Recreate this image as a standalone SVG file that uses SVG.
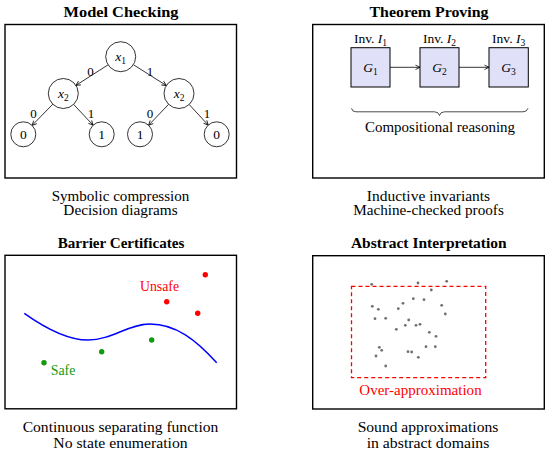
<svg xmlns="http://www.w3.org/2000/svg" width="550" height="455" viewBox="0 0 550 455">
<defs>
<style>
text{font-family:"Liberation Serif","DejaVu Serif",serif;fill:#000}
.title{font-size:15.5px;font-weight:bold;text-anchor:middle}
.cap{font-size:14.5px;text-anchor:middle}
.panel{fill:#fff;stroke:#000;stroke-width:1.4}
.nd{fill:#fff;stroke:#000;stroke-width:0.8}
.lbl{font-size:13.5px;text-anchor:middle}
.el{font-size:13px;text-anchor:middle}
.edge{stroke:#000;stroke-width:0.8;fill:none;marker-end:url(#ah)}
.g{fill:#e0e0f8;stroke:#000;stroke-width:1}
.dot{fill:#707070}
</style>
<marker id="ah" viewBox="0 0 6 6" refX="5.5" refY="3" markerWidth="6" markerHeight="6" markerUnits="userSpaceOnUse" orient="auto">
<path d="M1,0.8 L5.5,3 L1,5.2" fill="none" stroke="#000" stroke-width="0.8"/>
</marker>
</defs>
<rect width="550" height="455" fill="#fff"/>

<!-- Panel 1: Model Checking -->
<g id="model-checking">
<text class="title" x="121" y="17" textLength="115" lengthAdjust="spacingAndGlyphs">Model Checking</text>
<rect class="panel" x="5" y="24.5" width="231.5" height="153.5"/>
<g id="connectors-mc">
<line class="edge" x1="108.1" y1="64.8" x2="75.9" y2="85.4"/>
<line class="edge" x1="133.4" y1="64.7" x2="166.3" y2="85.5"/>
<line class="edge" x1="52.8" y1="104.2" x2="32.1" y2="125.4"/>
<line class="edge" x1="73.6" y1="104.4" x2="93.1" y2="125.2"/>
<line class="edge" x1="168.6" y1="104.3" x2="148.6" y2="125.3"/>
<line class="edge" x1="189.2" y1="104.5" x2="208.2" y2="125.1"/>
<text class="el" x="90.5" y="76">0</text>
<text class="el" x="150" y="76">1</text>
<text class="el" x="33.5" y="117.5">0</text>
<text class="el" x="91" y="117.5">1</text>
<text class="el" x="150" y="117.5">0</text>
<text class="el" x="207" y="117.5">1</text>
</g>
<g id="n-root"><circle class="nd" cx="120.7" cy="56.7" r="15"/><text class="lbl" x="120.7" y="61"><tspan font-style="italic">x</tspan><tspan font-size="9.5" dy="2.5">1</tspan></text></g>
<g id="n-x2l"><circle class="nd" cx="63.3" cy="93.5" r="15"/><text class="lbl" x="63.3" y="98"><tspan font-style="italic">x</tspan><tspan font-size="9.5" dy="2.5">2</tspan></text></g>
<g id="n-x2r"><circle class="nd" cx="179" cy="93.5" r="15"/><text class="lbl" x="179" y="98"><tspan font-style="italic">x</tspan><tspan font-size="9.5" dy="2.5">2</tspan></text></g>
<g id="n-l1"><circle class="nd" cx="23.3" cy="134.3" r="12.5"/><text class="lbl" x="23.3" y="139">0</text></g>
<g id="n-l2"><circle class="nd" cx="101.7" cy="134.3" r="12.5"/><text class="lbl" x="101.7" y="139">1</text></g>
<g id="n-l3"><circle class="nd" cx="140" cy="134.3" r="12.5"/><text class="lbl" x="140" y="139">1</text></g>
<g id="n-l4"><circle class="nd" cx="216.7" cy="134.3" r="12.5"/><text class="lbl" x="216.7" y="139">0</text></g>
<text class="cap" x="120.5" y="200.5" textLength="137.6" lengthAdjust="spacingAndGlyphs">Symbolic compression</text>
<text class="cap" x="120.5" y="215" textLength="114.3" lengthAdjust="spacingAndGlyphs">Decision diagrams</text>
</g>

<!-- Panel 2: Theorem Proving -->
<g id="theorem-proving">
<text class="title" x="429" y="17" textLength="119" lengthAdjust="spacingAndGlyphs">Theorem Proving</text>
<rect class="panel" x="312.7" y="24.5" width="231.6" height="153.5"/>
<g id="connectors-tp">
<line class="edge" x1="390" y1="67.3" x2="420" y2="67.3"/>
<line class="edge" x1="459" y1="67.3" x2="489" y2="67.3"/>
</g>
<g id="g1"><rect class="g" x="351" y="47.7" width="39" height="39.3"/><text class="lbl" x="370.5" y="72"><tspan font-style="italic">G</tspan><tspan font-size="9.5" dy="2.5">1</tspan></text><text class="lbl" x="370.5" y="43"><tspan>Inv. </tspan><tspan font-style="italic">I</tspan><tspan font-size="9.5" dy="2.5">1</tspan></text></g>
<g id="g2"><rect class="g" x="420" y="47.7" width="39" height="39.3"/><text class="lbl" x="439.5" y="72"><tspan font-style="italic">G</tspan><tspan font-size="9.5" dy="2.5">2</tspan></text><text class="lbl" x="439.5" y="43"><tspan>Inv. </tspan><tspan font-style="italic">I</tspan><tspan font-size="9.5" dy="2.5">2</tspan></text></g>
<g id="g3"><rect class="g" x="489" y="47.7" width="39.3" height="39.3"/><text class="lbl" x="508.6" y="72"><tspan font-style="italic">G</tspan><tspan font-size="9.5" dy="2.5">3</tspan></text><text class="lbl" x="508.6" y="43"><tspan>Inv. </tspan><tspan font-style="italic">I</tspan><tspan font-size="9.5" dy="2.5">3</tspan></text></g>
<path d="M351.5,108.3 Q352,111.8 356,111.8 L434.5,111.8 Q438.7,111.8 439.5,115.5 Q440.3,111.8 444.5,111.8 L523,111.8 Q527,111.8 528,108.3" fill="none" stroke="#000" stroke-width="0.7"/>
<text x="440" y="132" font-size="14.5" text-anchor="middle" textLength="150" lengthAdjust="spacingAndGlyphs">Compositional reasoning</text>
<text class="cap" x="428.5" y="200.5" textLength="123.3" lengthAdjust="spacingAndGlyphs">Inductive invariants</text>
<text class="cap" x="428.5" y="215" textLength="150.7" lengthAdjust="spacingAndGlyphs">Machine-checked proofs</text>
</g>

<!-- Panel 3: Barrier Certificates -->
<g id="barrier">
<text class="title" x="121" y="248" textLength="126.7" lengthAdjust="spacingAndGlyphs">Barrier Certificates</text>
<rect class="panel" x="5" y="255.3" width="231.5" height="153.5"/>
<path d="M24.3,313.3 C45,328 68,340 88,340 C112,340 128,324 150,324 C176,324 196,340 216.7,362.7" fill="none" stroke="#0000ff" stroke-width="1.5"/>
<g fill="#ff0000"><circle cx="205.3" cy="274.7" r="2.7"/><circle cx="166.7" cy="301.7" r="2.7"/><circle cx="197.7" cy="313.3" r="2.7"/></g>
<g fill="#109a10"><circle cx="44" cy="362.7" r="2.7"/><circle cx="101.7" cy="351.7" r="2.7"/><circle cx="151.7" cy="340" r="2.7"/></g>
<text x="159.5" y="290.5" font-size="14.5" text-anchor="middle" style="fill:#ff0000" textLength="39" lengthAdjust="spacingAndGlyphs">Unsafe</text>
<text x="50.7" y="375" font-size="14.5" style="fill:#109a10" textLength="24.7" lengthAdjust="spacingAndGlyphs">Safe</text>
<text class="cap" x="120.5" y="432" textLength="195.7" lengthAdjust="spacingAndGlyphs">Continuous separating function</text>
<text class="cap" x="120.5" y="447.5" textLength="134.3" lengthAdjust="spacingAndGlyphs">No state enumeration</text>
</g>

<!-- Panel 4: Abstract Interpretation -->
<g id="abstract-interp">
<text class="title" x="428.8" y="248" textLength="155.7" lengthAdjust="spacingAndGlyphs">Abstract Interpretation</text>
<rect class="panel" x="312.7" y="255.7" width="231.6" height="153.3"/>
<rect x="351.5" y="286.3" width="134.2" height="91.3" fill="none" stroke="#ff0000" stroke-width="1.3" stroke-dasharray="4,3"/>
<g class="dot">
<circle cx="371.7" cy="284.3" r="1.4"/><circle cx="418" cy="283" r="1.4"/><circle cx="446.7" cy="281.3" r="1.4"/>
<circle cx="431.3" cy="290" r="1.4"/><circle cx="413.3" cy="298.7" r="1.4"/><circle cx="424" cy="299.7" r="1.4"/>
<circle cx="403" cy="303.3" r="1.4"/><circle cx="398.3" cy="308.7" r="1.4"/><circle cx="372.3" cy="306.3" r="1.4"/>
<circle cx="378.3" cy="309.3" r="1.4"/><circle cx="441.7" cy="305.3" r="1.4"/><circle cx="445.3" cy="314" r="1.4"/>
<circle cx="375" cy="318.7" r="1.4"/><circle cx="385.7" cy="318.3" r="1.4"/><circle cx="408.7" cy="320" r="1.4"/>
<circle cx="405.3" cy="325.3" r="1.4"/><circle cx="416" cy="325.3" r="1.4"/><circle cx="420" cy="324.3" r="1.4"/>
<circle cx="396.3" cy="329.3" r="1.4"/><circle cx="429.3" cy="332.3" r="1.4"/><circle cx="436" cy="336.3" r="1.4"/>
<circle cx="379.3" cy="347.3" r="1.4"/><circle cx="381.7" cy="350.3" r="1.4"/><circle cx="376" cy="356" r="1.4"/>
<circle cx="408" cy="351.7" r="1.4"/><circle cx="411.7" cy="352" r="1.4"/><circle cx="426" cy="346.7" r="1.4"/>
<circle cx="435.3" cy="346.7" r="1.4"/><circle cx="418.3" cy="357.3" r="1.4"/><circle cx="385.7" cy="366" r="1.4"/>
</g>
<text x="420.5" y="395" font-size="14.5" text-anchor="middle" style="fill:#ff0000" textLength="122.3" lengthAdjust="spacingAndGlyphs">Over-approximation</text>
<text class="cap" x="428" y="432" textLength="140.7" lengthAdjust="spacingAndGlyphs">Sound approximations</text>
<text class="cap" x="428" y="447.5" textLength="122.7" lengthAdjust="spacingAndGlyphs">in abstract domains</text>
</g>
</svg>
